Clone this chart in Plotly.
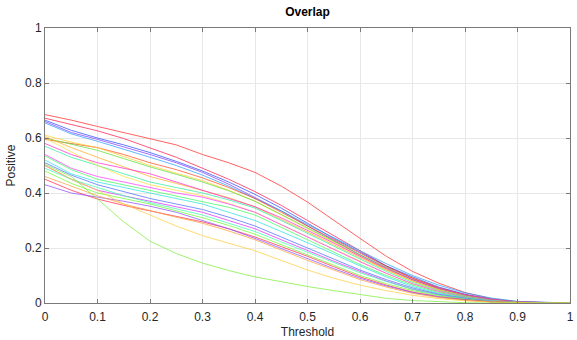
import plotly.graph_objects as go

thresholds = [0.0, 0.05, 0.1, 0.15, 0.2, 0.25, 0.3, 0.35, 0.4, 0.45, 0.5,
              0.55, 0.6, 0.65, 0.7, 0.75, 0.8, 0.85, 0.9, 0.95, 1.0]

c01 = [.685, .665, .642, .62, .598, .575, .54, .51, .475, .425, .367, .30, .235, .17, .115, .072, .038, .016, .005, .001, 0]
c02 = [.672, .650, .626, .598, .564, .53, .49, .45, .405, .355, .30, .245, .19, .135, .09, .055, .03, .013, .004, .001, 0]
c03 = [.665, .628, .60, .575, .547, .515, .48, .44, .395, .345, .29, .235, .185, .135, .095, .058, .032, .014, .004, .001, 0]
c04 = [.66, .62, .595, .568, .54, .51, .475, .432, .385, .335, .28, .228, .175, .128, .085, .052, .028, .012, .003, .001, 0]
c05 = [.655, .615, .588, .56, .53, .50, .465, .425, .38, .335, .285, .238, .19, .143, .10, .065, .037, .018, .006, .002, 0]
c06 = [.595, .58, .565, .54, .51, .485, .455, .42, .38, .33, .28, .23, .18, .132, .09, .055, .03, .013, .003, .001, 0]
c07 = [.61, .585, .565, .532, .50, .472, .445, .41, .37, .32, .27, .22, .17, .122, .08, .048, .025, .01, .002, 0, 0]
c08 = [.60, .578, .555, .525, .495, .468, .44, .408, .37, .322, .275, .225, .175, .128, .085, .052, .028, .012, .003, .001, 0]
c09 = [.605, .565, .53, .495, .46, .435, .41, .383, .35, .305, .26, .212, .165, .12, .08, .048, .025, .01, .002, 0, 0]
c10 = [.58, .54, .51, .49, .47, .44, .41, .38, .35, .31, .265, .218, .17, .125, .085, .053, .03, .013, .004, .001, 0]
c11 = [.57, .53, .50, .47, .44, .42, .40, .375, .345, .30, .255, .207, .16, .115, .075, .045, .024, .01, .002, 0, 0]
c12 = [.60, .55, .50, .46, .43, .41, .39, .362, .33, .285, .24, .195, .15, .108, .07, .042, .02, .008, .002, 0, 0]
c13 = [.54, .49, .46, .44, .42, .40, .385, .36, .33, .285, .24, .195, .15, .108, .07, .042, .022, .009, .002, 0, 0]
c14 = [.535, .485, .45, .43, .41, .39, .37, .348, .32, .275, .23, .185, .14, .10, .065, .038, .02, .008, .002, 0, 0]
c15 = [.52, .47, .44, .42, .40, .38, .36, .33, .30, .26, .22, .178, .135, .095, .06, .035, .018, .007, .002, 0, 0]
c16 = [.51, .465, .43, .405, .38, .36, .34, .312, .28, .24, .20, .16, .12, .085, .055, .032, .017, .006, .001, 0, 0]
c17 = [.50, .45, .41, .39, .37, .35, .33, .30, .27, .23, .19, .152, .115, .08, .05, .03, .015, .006, .001, 0, 0]
c18 = [.49, .45, .42, .39, .365, .342, .32, .29, .26, .222, .185, .147, .11, .078, .05, .029, .015, .005, .001, 0, 0]
c19 = [.48, .435, .40, .38, .36, .335, .31, .282, .25, .212, .175, .138, .10, .07, .045, .026, .013, .005, .001, 0, 0]
c20 = [.45, .41, .378, .355, .335, .315, .295, .27, .24, .205, .17, .132, .095, .065, .04, .023, .012, .004, .001, 0, 0]
c21 = [.43, .40, .385, .37, .352, .33, .30, .27, .235, .198, .16, .125, .09, .062, .038, .022, .011, .004, .001, 0, 0]
c22 = [.46, .425, .39, .36, .335, .312, .29, .262, .23, .192, .155, .12, .085, .058, .035, .02, .01, .004, .001, 0, 0]
c23 = [.50, .45, .41, .36, .32, .28, .245, .218, .19, .155, .12, .09, .065, .045, .028, .016, .008, .003, .001, 0, 0]
c24 = [.504, .46, .378, .295, .225, .18, .145, .118, .095, .077, .06, .045, .03, .017, .009, .004, .001, 0, 0, 0, 0]

series = [c01, c02, c03, c04, c05, c06, c07, c08, c09, c10, c11, c12,
          c13, c14, c15, c16, c17, c18, c19, c20, c21, c22, c23, c24]
colors = ["#ff3030", "#ff2050", "#3050ff", "#8040ff", "#30a0ff", "#ff5020",
          "#ffd030", "#60e040", "#ffb020", "#ff30d0", "#30f0a0", "#ffe040",
          "#ff40ff", "#40ff60", "#30e0e0", "#5070ff", "#e030ff", "#40ffb0",
          "#70ff30", "#ff3050", "#9050ff", "#ffa040", "#ffd040", "#80f040"]

x_ticks = [0, 0.1, 0.2, 0.3, 0.4, 0.5, 0.6, 0.7, 0.8, 0.9, 1]
x_labels = ["0", "0.1", "0.2", "0.3", "0.4", "0.5", "0.6", "0.7", "0.8", "0.9", "1"]
y_ticks = [0, 0.2, 0.4, 0.6, 0.8, 1]
y_labels = ["0", "0.2", "0.4", "0.6", "0.8", "1"]

fig = go.Figure()
for vals, col in zip(series, colors):
    fig.add_trace(go.Scatter(x=thresholds, y=vals, mode="lines",
                             line=dict(color=col, width=1), opacity=0.75,
                             showlegend=False, hoverinfo="skip"))

axis_common = dict(showline=True, linecolor="#7a7a7a", linewidth=1, mirror="ticks",
                   ticks="inside", ticklen=4, tickcolor="#7a7a7a",
                   showgrid=True, gridcolor="#e8e8e8", gridwidth=1, zeroline=False,
                   ticklabeloverflow="allow",
                   tickfont=dict(family="Liberation Sans, Arial", size=12, color="#262626"))

fig.update_layout(
    width=577, height=340,
    margin=dict(l=45, r=3, t=28, b=34),
    paper_bgcolor="white", plot_bgcolor="white",
    title=dict(text="<b>Overlap</b>", x=0.5, xref="paper", xanchor="center",
               y=0.965, yanchor="middle", yref="container",
               font=dict(family="Liberation Sans, Arial", size=12, color="#000000")),
    xaxis=dict(range=[0, 1], tickvals=x_ticks, ticktext=x_labels, ticklabelstandoff=3,
               title=dict(text="Threshold", standoff=4,
                          font=dict(family="Liberation Sans, Arial", size=12, color="#262626")),
               **axis_common),
    yaxis=dict(range=[0, 1], tickvals=y_ticks, ticktext=y_labels,
               title=dict(text="Positive", standoff=6,
                          font=dict(family="Liberation Sans, Arial", size=12, color="#262626")),
               **axis_common),
)

fig.write_html("out.html", config={"displayModeBar": False},
               post_script="document.body.style.margin='0px';document.body.style.padding='0px';")
